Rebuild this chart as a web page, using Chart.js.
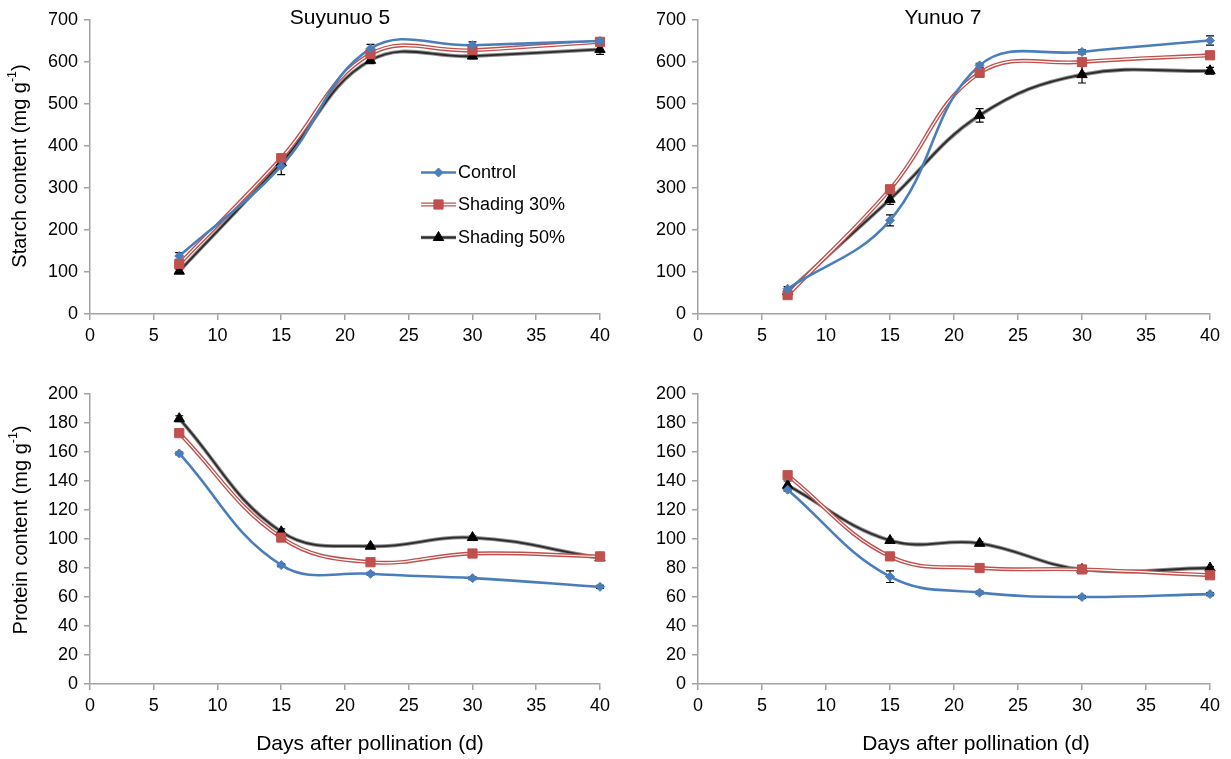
<!DOCTYPE html>
<html>
<head>
<meta charset="utf-8">
<script src="https://cdn.jsdelivr.net/npm/chart.js@4.4.1/dist/chart.umd.min.js"></script>
<style>
html,body{margin:0;padding:0;background:#fff;}
body{width:1231px;height:759px;overflow:hidden;position:relative;}
canvas{position:absolute;}
</style>
</head>
<body>
<canvas id="tl" width="615" height="370" style="left:0;top:0"></canvas>
<canvas id="tr" width="616" height="370" style="left:615px;top:0"></canvas>
<canvas id="bl" width="615" height="389" style="left:0;top:370px"></canvas>
<canvas id="br" width="616" height="389" style="left:615px;top:370px"></canvas>
<script>
// ---------------- DATA ----------------
const days = [7, 15, 22, 30, 40];
const xTickValues = [0, 5, 10, 15, 20, 25, 30, 35, 40];
const starchTickValues = [0, 100, 200, 300, 400, 500, 600, 700];
const proteinTickValues = [0, 20, 40, 60, 80, 100, 120, 140, 160, 180, 200];
const seriesNames = ['Control', 'Shading 30%', 'Shading 50%'];
const panelTitles = ['Suyunuo 5', 'Yunuo 7'];

// Suyunuo 5 starch
const s5StarchControl = [138, 352, 632, 640, 650];
const s5StarchShade30 = [119, 371, 619, 628, 648];
const s5StarchShade50 = [102, 360, 604, 614, 630];
const s5StarchControlErr = [8, 20, 10, 8, 5];
const s5StarchShade30Err = [4, 5, 5, 5, 4];
const s5StarchShade50Err = [5, 8, 8, 6, 12];
// Yunuo 7 starch
const y7StarchControl = [60, 223, 592, 624, 651];
const y7StarchShade30 = [45, 297, 574, 600, 616];
const y7StarchShade50 = [53, 273, 473, 570, 579];
const y7StarchControlErr = [5, 13, 5, 5, 11];
const y7StarchShade30Err = [3, 5, 5, 5, 5];
const y7StarchShade50Err = [4, 12, 16, 20, 8];
// Suyunuo 5 protein
const s5ProteinControl = [159, 82, 76, 73, 67];
const s5ProteinShade30 = [173, 101, 84, 90, 88];
const s5ProteinShade50 = [183, 105, 95, 101, 87];
const s5ProteinControlErr = [1, 1, 1, 1, 1];
const s5ProteinShade30Err = [1, 1, 1, 1, 1];
const s5ProteinShade50Err = [2, 2, 1, 1, 1];
// Yunuo 7 protein
const y7ProteinControl = [134, 74, 63, 60, 62];
const y7ProteinShade30 = [144, 88, 80, 79, 75];
const y7ProteinShade50 = [137, 99, 97, 79, 80];
const y7ProteinControlErr = [1, 4, 1, 1, 1];
const y7ProteinShade30Err = [1, 1, 2, 1, 1];
const y7ProteinShade50Err = [3, 1, 1, 1, 1];

// ---------------- STYLE ----------------
const FONT = '"Liberation Sans", Arial, Helvetica, sans-serif';
const AXIS_COLOR = '#a3a3a3';
const BLUE = '#4a7ebb';
const RED = '#c0504d';
const DARK = '#2b2b2b';

// ---------------- PLUGINS ----------------
const errorBarPlugin = {
  id: 'errorBars',
  beforeDatasetsDraw(chart) {
    const ctx = chart.ctx;
    const ys = chart.scales.y;
    ctx.save();
    ctx.strokeStyle = '#000';
    ctx.lineWidth = 1.2;
    chart.data.datasets.forEach((ds, i) => {
      if (!ds.errors) return;
      const meta = chart.getDatasetMeta(i);
      meta.data.forEach((pt, j) => {
        const v = ds.data[j].y, e = ds.errors[j];
        if (!e) return;
        const y1 = ys.getPixelForValue(v - e), y2 = ys.getPixelForValue(v + e);
        const x = pt.x;
        ctx.beginPath();
        ctx.moveTo(x, y1); ctx.lineTo(x, y2);
        ctx.moveTo(x - 4, y1); ctx.lineTo(x + 4, y1);
        ctx.moveTo(x - 4, y2); ctx.lineTo(x + 4, y2);
        ctx.stroke();
      });
    });
    ctx.restore();
  }
};

function drawRichText(ctx, parts, size) {
  let total = 0;
  const widths = parts.map(p => {
    ctx.font = (p.sup ? size * 0.62 : size) + 'px ' + FONT;
    const w = ctx.measureText(p.t).width;
    total += w;
    return w;
  });
  let x = -total / 2;
  parts.forEach((p, i) => {
    ctx.font = (p.sup ? size * 0.62 : size) + 'px ' + FONT;
    ctx.fillText(p.t, x, p.sup ? -size * 0.38 : 0);
    x += widths[i];
  });
}

const textPlugin = {
  id: 'texts',
  afterDraw(chart, args, opts) {
    const ctx = chart.ctx;
    (opts.items || []).forEach(it => {
      ctx.save();
      ctx.fillStyle = '#000';
      ctx.textBaseline = 'middle';
      ctx.textAlign = 'left';
      ctx.translate(it.x, it.y);
      if (it.rotate) ctx.rotate(it.rotate);
      drawRichText(ctx, it.parts, it.size);
      ctx.restore();
    });
  }
};

const legendPlugin = {
  id: 'customLegend',
  afterDraw(chart, args, opts) {
    if (!opts.show) return;
    const ctx = chart.ctx;
    const rows = [
      {name: seriesNames[0], y: 172.5, kind: 'c'},
      {name: seriesNames[1], y: 204.5, kind: 's30'},
      {name: seriesNames[2], y: 237.5, kind: 's50'}
    ];
    const x0 = 421, x1 = 456, xm = 438.5;
    rows.forEach(r => {
      ctx.save();
      ctx.lineCap = 'butt';
      if (r.kind === 'c') {
        ctx.strokeStyle = BLUE; ctx.lineWidth = 2.5;
        ctx.beginPath(); ctx.moveTo(x0, r.y); ctx.lineTo(x1, r.y); ctx.stroke();
        ctx.fillStyle = BLUE; ctx.strokeStyle = BLUE; ctx.lineWidth = 1;
        Chart.helpers.drawPoint(ctx, {pointStyle: 'rectRot', radius: 4.5, rotation: 0, borderWidth: 1}, xm, r.y);
      } else if (r.kind === 's30') {
        ctx.strokeStyle = RED; ctx.lineWidth = 4;
        ctx.beginPath(); ctx.moveTo(x0, r.y); ctx.lineTo(x1, r.y); ctx.stroke();
        ctx.strokeStyle = '#fff'; ctx.lineWidth = 1.3;
        ctx.beginPath(); ctx.moveTo(x0, r.y); ctx.lineTo(x1, r.y); ctx.stroke();
        ctx.fillStyle = RED; ctx.strokeStyle = RED; ctx.lineWidth = 1;
        Chart.helpers.drawPoint(ctx, {pointStyle: 'rect', radius: 6.5, rotation: 0, borderWidth: 1}, xm, r.y);
      } else {
        ctx.strokeStyle = '#8a8a8a'; ctx.lineWidth = 3.6;
        ctx.beginPath(); ctx.moveTo(x0, r.y); ctx.lineTo(x1, r.y); ctx.stroke();
        ctx.strokeStyle = DARK; ctx.lineWidth = 1.8;
        ctx.beginPath(); ctx.moveTo(x0, r.y); ctx.lineTo(x1, r.y); ctx.stroke();
        ctx.fillStyle = '#000'; ctx.strokeStyle = '#000'; ctx.lineWidth = 1;
        Chart.helpers.drawPoint(ctx, {pointStyle: 'triangle', radius: 6, rotation: 0, borderWidth: 1}, xm, r.y);
      }
      ctx.fillStyle = '#000';
      ctx.font = '18px ' + FONT;
      ctx.textBaseline = 'middle';
      ctx.textAlign = 'left';
      ctx.fillText(r.name, 458, r.y + 1);
      ctx.restore();
    });
  }
};

// ---------------- BUILD ----------------
function pts(vals) { return days.map((d, i) => ({x: d, y: vals[i]})); }

function buildDatasets(ctrl, s30, s50, eC, e30, e50) {
  const common = {tension: 0.4, fill: false, clip: false};
  return [
    {...common, data: pts(ctrl), errors: eC, showLine: false, pointStyle: 'rectRot', pointRadius: 4.5,
     backgroundColor: BLUE, borderColor: BLUE, pointBorderWidth: 1, order: 0},
    {...common, data: pts(s30), errors: e30, showLine: false, pointStyle: 'rect', pointRadius: 6.5,
     backgroundColor: RED, borderColor: RED, pointBorderWidth: 1, order: 0},
    {...common, data: pts(s50), errors: e50, showLine: false, pointStyle: 'triangle', pointRadius: 6,
     backgroundColor: '#000', borderColor: '#000', pointBorderWidth: 1, order: 0},
    {...common, data: pts(ctrl), borderColor: BLUE, borderWidth: 2.6, pointRadius: 0, order: 3},
    {...common, data: pts(s30), borderColor: '#fff', borderWidth: 1.2, pointRadius: 0, order: 4},
    {...common, data: pts(s30), borderColor: RED, borderWidth: 4, pointRadius: 0, order: 5},
    {...common, data: pts(s50), borderColor: DARK, borderWidth: 1.8, pointRadius: 0, order: 6},
    {...common, data: pts(s50), borderColor: '#8c8c8c', borderWidth: 3.8, pointRadius: 0, order: 7}
  ];
}

function axisStyle() {
  return {
    grid: {display: true, drawOnChartArea: false, drawTicks: true, tickLength: 6, color: AXIS_COLOR, lineWidth: 1.5},
    border: {display: true, color: AXIS_COLOR, width: 1.5},
  };
}

function makeChart(id, cfg) {
  const canvas = document.getElementById(id);
  const H = canvas.height, W = canvas.width;
  const yTicks = cfg.yTicks;
  return new Chart(canvas, {
    type: 'line',
    data: {datasets: buildDatasets(...cfg.series)},
    options: {
      responsive: false,
      animation: false,
      devicePixelRatio: 1,
      layout: {padding: {left: 0, top: cfg.top, right: W - cfg.right, bottom: 0}},
      plugins: {
        legend: {display: false},
        tooltip: {enabled: false},
        texts: {items: cfg.texts},
        customLegend: {show: !!cfg.legend}
      },
      scales: {
        x: {
          type: 'linear', min: 0, max: 40,
          ...axisStyle(),
          afterBuildTicks: s => { s.ticks = xTickValues.map(v => ({value: v})); },
          afterFit: s => { s.height = H - cfg.bottom; },
          ticks: {color: '#000', font: {size: 18, family: FONT}, padding: 5, maxRotation: 0, autoSkip: false}
        },
        y: {
          type: 'linear', min: 0, max: yTicks[yTicks.length - 1],
          ...axisStyle(),
          afterBuildTicks: s => { s.ticks = yTicks.map(v => ({value: v})); },
          afterFit: s => { s.width = cfg.left; },
          ticks: {color: '#000', font: {size: 18, family: FONT}, padding: 6, autoSkip: false}
        }
      }
    },
    plugins: [errorBarPlugin, textPlugin, legendPlugin]
  });
}

const starchTitle = [{t: 'Starch content (mg g'}, {t: '-1', sup: true}, {t: ')'}];
const proteinTitle = [{t: 'Protein content (mg g'}, {t: '-1', sup: true}, {t: ')'}];
const xTitle = [{t: 'Days after pollination (d)'}];

makeChart('tl', {
  left: 90, right: 601, top: 20, bottom: 314, yTicks: starchTickValues, legend: true,
  series: [s5StarchControl, s5StarchShade30, s5StarchShade50, s5StarchControlErr, s5StarchShade30Err, s5StarchShade50Err],
  texts: [
    {parts: [{t: panelTitles[0]}], x: 340, y: 18, size: 21},
    {parts: starchTitle, x: 20, y: 166, size: 20, rotate: -Math.PI / 2}
  ]
});
makeChart('tr', {
  left: 83, right: 595, top: 20, bottom: 314, yTicks: starchTickValues,
  series: [y7StarchControl, y7StarchShade30, y7StarchShade50, y7StarchControlErr, y7StarchShade30Err, y7StarchShade50Err],
  texts: [
    {parts: [{t: panelTitles[1]}], x: 328, y: 18, size: 21}
  ]
});
makeChart('bl', {
  left: 90, right: 601, top: 24, bottom: 314, yTicks: proteinTickValues,
  series: [s5ProteinControl, s5ProteinShade30, s5ProteinShade50, s5ProteinControlErr, s5ProteinShade30Err, s5ProteinShade50Err],
  texts: [
    {parts: proteinTitle, x: 21, y: 160, size: 20, rotate: -Math.PI / 2},
    {parts: xTitle, x: 370, y: 374, size: 21}
  ]
});
makeChart('br', {
  left: 83, right: 595, top: 24, bottom: 314, yTicks: proteinTickValues,
  series: [y7ProteinControl, y7ProteinShade30, y7ProteinShade50, y7ProteinControlErr, y7ProteinShade30Err, y7ProteinShade50Err],
  texts: [
    {parts: xTitle, x: 361, y: 374, size: 21}
  ]
});
</script>
</body>
</html>
